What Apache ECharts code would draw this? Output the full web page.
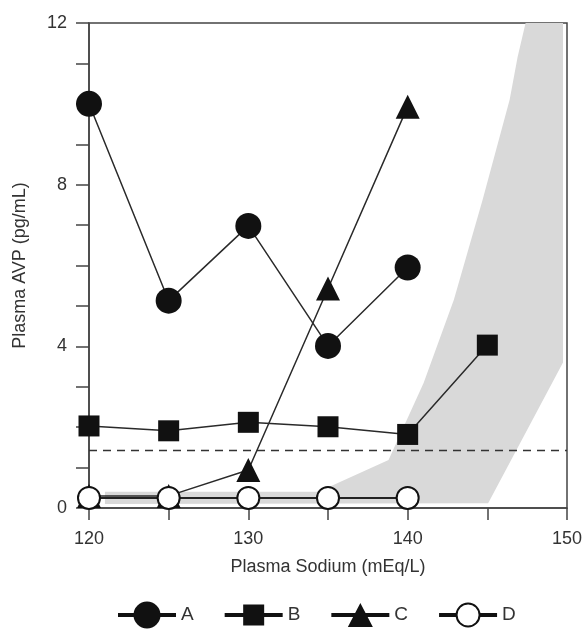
<!DOCTYPE html>
<html>
<head>
<meta charset="utf-8">
<script src="https://cdn.jsdelivr.net/npm/echarts@6/dist/echarts.min.js"></script>
<style>
html,body{margin:0;padding:0;background:#fff;}
#chart{width:583px;height:629px;}
</style>
</head>
<body>
<div id="chart"></div>
<script>
// ---- data ----
const xValues = [120, 125, 130, 135, 140, 145];
const seriesNames = ['A', 'B', 'C', 'D'];
const valuesA = [10.0, 5.13, 6.98, 4.01, 5.95];
const valuesB = [2.03, 1.91, 2.12, 2.01, 1.82, 4.03];
const valuesC = [0.3, 0.3, 0.94, 5.43, 9.93];
const valuesD = [0.25, 0.25, 0.25, 0.25, 0.25];
const thresholdY = 1.42;
// shaded normal range: upper edge (left->right), lower edge (right->left)
const bandUpperX = [121.0, 134.4, 138.8, 141.0, 142.9, 144.7, 146.4, 146.9, 147.4, 149.75];
const bandUpperY = [0.40, 0.40, 1.19, 3.09, 5.15, 7.62, 10.1, 11.16, 12.0, 12.0];
const bandLowerX = [149.75, 145.05, 121.0];
const bandLowerY = [3.6, 0.12, 0.10];
// ticks / labels
const xTickLabels = [120, 130, 140, 150];
const yTickLabels = [0, 4, 8, 12];
const xAxisTitle = 'Plasma Sodium (mEq/L)';
const yAxisTitle = 'Plasma AVP (pg/mL)';

const FONT = "'Liberation Sans', Arial, sans-serif";
const INK = '#111';
const AX = '#444';

function pairs(vals) { return vals.map((v, i) => [xValues[i], v]); }

// legend icons (58 x 28 box)
const anchor = 'M0,0L0,0Z M58,28L58,28Z ';
const iconA = 'path://' + anchor + 'M0,12L58,12L58,16L0,16Z M15.5,14A13.5,13.5,0,1,1,42.5,14A13.5,13.5,0,1,1,15.5,14Z';
const iconB = 'path://' + anchor + 'M0,12L58,12L58,16L0,16Z M18.5,3.5L39.5,3.5L39.5,24.5L18.5,24.5Z';
const iconC = 'path://' + anchor + 'M0,12L58,12L58,16L0,16Z M29,2L41.5,26L16.5,26Z';
const iconD = 'path://' + anchor + 'M0,12L17,12L17,16L0,16Z M41,12L58,12L58,16L41,16Z ' +
  'M16.5,14A12.5,12.5,0,1,1,41.5,14A12.5,12.5,0,1,1,16.5,14Z M18.5,14A10.5,10.5,0,1,0,39.5,14A10.5,10.5,0,1,0,18.5,14Z';
const legendIcons = [iconA, iconB, iconC, iconD];

const chart = echarts.init(document.getElementById('chart'), null, {renderer: 'canvas'});

const lineStyleBase = {color: '#2a2a2a', width: 1.5};

const option = {
  animation: false,
  backgroundColor: '#fff',
  textStyle: {fontFamily: FONT},
  grid: {left: 89, right: 16, top: 23, bottom: 121, show: true, borderColor: AX, borderWidth: 1.5,
         backgroundColor: 'transparent', outerBoundsMode: 'none', containLabel: false},
  legend: {
    left: 113, top: 596,
    itemWidth: 58, itemHeight: 28, itemGap: 31,
    selectedMode: false,
    textStyle: {fontFamily: FONT, fontSize: 19, color: '#333', padding: [6, 0, 0, 0]},
    data: seriesNames.map((n, i) => ({name: n, icon: legendIcons[i], itemStyle: {color: INK, borderWidth: 0}}))
  },
  xAxis: {
    type: 'value', min: 120, max: 150, interval: 5,
    name: xAxisTitle, nameLocation: 'middle', nameGap: 50,
    nameTextStyle: {fontFamily: FONT, fontSize: 18, color: '#333'},
    axisLine: {show: true, lineStyle: {color: AX, width: 1.5}},
    axisTick: {show: true, length: 12, lineStyle: {color: AX, width: 1.5}},
    axisLabel: {
      fontFamily: FONT, fontSize: 18, color: '#333', margin: 22,
      formatter: v => xTickLabels.indexOf(v) >= 0 ? String(v) : ''
    },
    splitLine: {show: false}
  },
  yAxis: {
    type: 'value', min: 0, max: 12, interval: 1,
    name: yAxisTitle, nameLocation: 'middle', nameGap: 60,
    nameTextStyle: {fontFamily: FONT, fontSize: 18, color: '#333'},
    axisLine: {show: true, lineStyle: {color: AX, width: 1.5}},
    axisTick: {show: true, length: 13, lineStyle: {color: AX, width: 1.5}},
    axisLabel: {
      fontFamily: FONT, fontSize: 18, color: '#333', margin: 22,
      formatter: v => yTickLabels.indexOf(v) >= 0 ? String(v) : ''
    },
    splitLine: {show: false}
  },
  series: [
    {
      type: 'custom', name: 'band', silent: true, z: 1,
      renderItem: function (params, api) {
        const pts = [];
        for (let i = 0; i < bandUpperX.length; i++) pts.push(api.coord([bandUpperX[i], bandUpperY[i]]));
        for (let i = 0; i < bandLowerX.length; i++) pts.push(api.coord([bandLowerX[i], bandLowerY[i]]));
        return {type: 'polygon', shape: {points: pts}, style: {fill: '#d9d9d9'}};
      },
      data: [[bandUpperX[0], bandUpperY[0]]]
    },
    {
      type: 'line', name: 'threshold', silent: true, z: 2,
      data: [[120, thresholdY], [150, thresholdY]],
      symbol: 'none',
      lineStyle: {color: '#333', width: 1.5, type: [8, 6]}
    },
    {
      type: 'line', name: 'A', z: 3, color: INK,
      data: pairs(valuesA), symbol: 'circle', symbolSize: 26,
      lineStyle: lineStyleBase, itemStyle: {color: INK}
    },
    {
      type: 'line', name: 'B', z: 3, color: INK,
      data: pairs(valuesB), symbol: 'rect', symbolSize: 21,
      lineStyle: lineStyleBase, itemStyle: {color: INK}
    },
    {
      type: 'line', name: 'C', z: 3, color: INK,
      data: pairs(valuesC), symbol: 'triangle', symbolSize: 24,
      lineStyle: lineStyleBase, itemStyle: {color: INK}
    },
    {
      type: 'line', name: 'D', z: 4, color: INK,
      data: pairs(valuesD), symbol: 'circle', symbolSize: 22,
      lineStyle: {color: '#222', width: 2},
      itemStyle: {color: '#fff', borderColor: INK, borderWidth: 2}
    }
  ]
};
chart.setOption(option);
</script>
</body>
</html>
